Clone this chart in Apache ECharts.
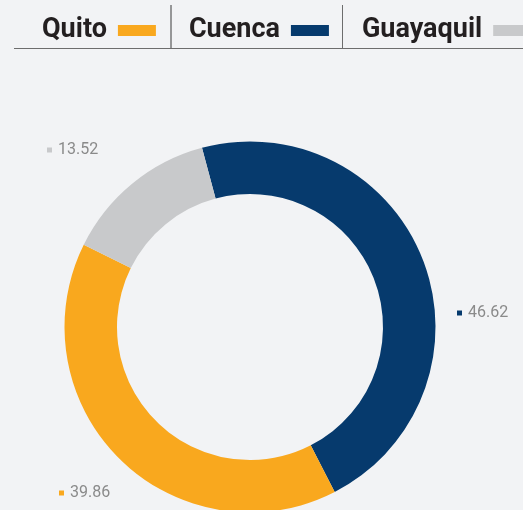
<!DOCTYPE html>
<html>
<head>
<meta charset="utf-8">
<script src="https://cdn.jsdelivr.net/npm/echarts@6/dist/echarts.min.js"></script>
<style>
    html, body { margin: 0; padding: 0; background: #f2f3f5; }
    #chart { width: 523px; height: 510px; }
</style>
</head>
<body>
<div id="chart"></div>
<script>
// datos de la dona
const cities = ['Cuenca', 'Quito', 'Guayaquil']
const values = [46.62, 39.86, 13.52]
const colors = ['#063a6d', '#f9a81e', '#c8c9cb']
const legendOrder = ['Quito', 'Cuenca', 'Guayaquil']

const myChart = echarts.init(document.getElementById('chart'), null, { renderer: 'canvas' })

const pieData = cities.map(function (name, i) {
    return { name: name, value: values[i], itemStyle: { color: colors[i] } }
})

// donde va cada etiqueta (solo texto)
const labelSpots = {
    'Cuenca': [457, 313],
    'Quito': [59, 493],
    'Guayaquil': [47, 150]
}

const option = {
    backgroundColor: '#f2f3f5',
    animation: false,
    legend: {
        data: legendOrder,
        left: 42,
        top: 17,
        padding: 0,
        width: 700,
        align: 'right',
        itemGap: 33,
        itemWidth: 38,
        itemHeight: 11,
        icon: 'rect',
        selectedMode: false,
        textStyle: {
            fontFamily: 'Roboto',
            fontWeight: 'bold',
            fontSize: 27,
            color: '#231f20',
            padding: [0, 6, 0, 0]
        }
    },
    graphic: [
        { type: 'line', shape: { x1: 14, y1: 48.5, x2: 523, y2: 48.5 }, style: { stroke: '#6d6d6d', lineWidth: 1 } },
        { type: 'line', shape: { x1: 171, y1: 5, x2: 171, y2: 48 }, style: { stroke: '#3a3a3a', lineWidth: 1 } },
        { type: 'line', shape: { x1: 342.5, y1: 5, x2: 342.5, y2: 48 }, style: { stroke: '#6d6d6d', lineWidth: 1 } }
    ],
    series: [{
        type: 'pie',
        center: [250, 327],
        radius: [133, 185.5],
        startAngle: 105,
        clockwise: true,
        silent: true,
        data: pieData,
        labelLine: { show: false },
        label: {
            show: true,
            position: 'outside',
            overflow: 'none',
            formatter: function (p) {
                return '{sq' + p.dataIndex + '|}{v|' + p.value.toFixed(2) + '}'
            },
            rich: {
                sq0: { width: 5, height: 5, backgroundColor: colors[0] },
                sq1: { width: 5, height: 5, backgroundColor: colors[1] },
                sq2: { width: 5, height: 5, backgroundColor: colors[2] },
                v: { fontFamily: 'Roboto', fontSize: 16, color: '#8a8a8a', padding: [0, 0, 0, 6] }
            }
        },
        labelLayout: function (params) {
            const name = cities[params.dataIndex]
            const spot = labelSpots[name]
            return { x: spot[0], y: spot[1], align: 'left', verticalAlign: 'middle' }
        }
    }]
}

myChart.setOption(option)
</script>
</body>
</html>
